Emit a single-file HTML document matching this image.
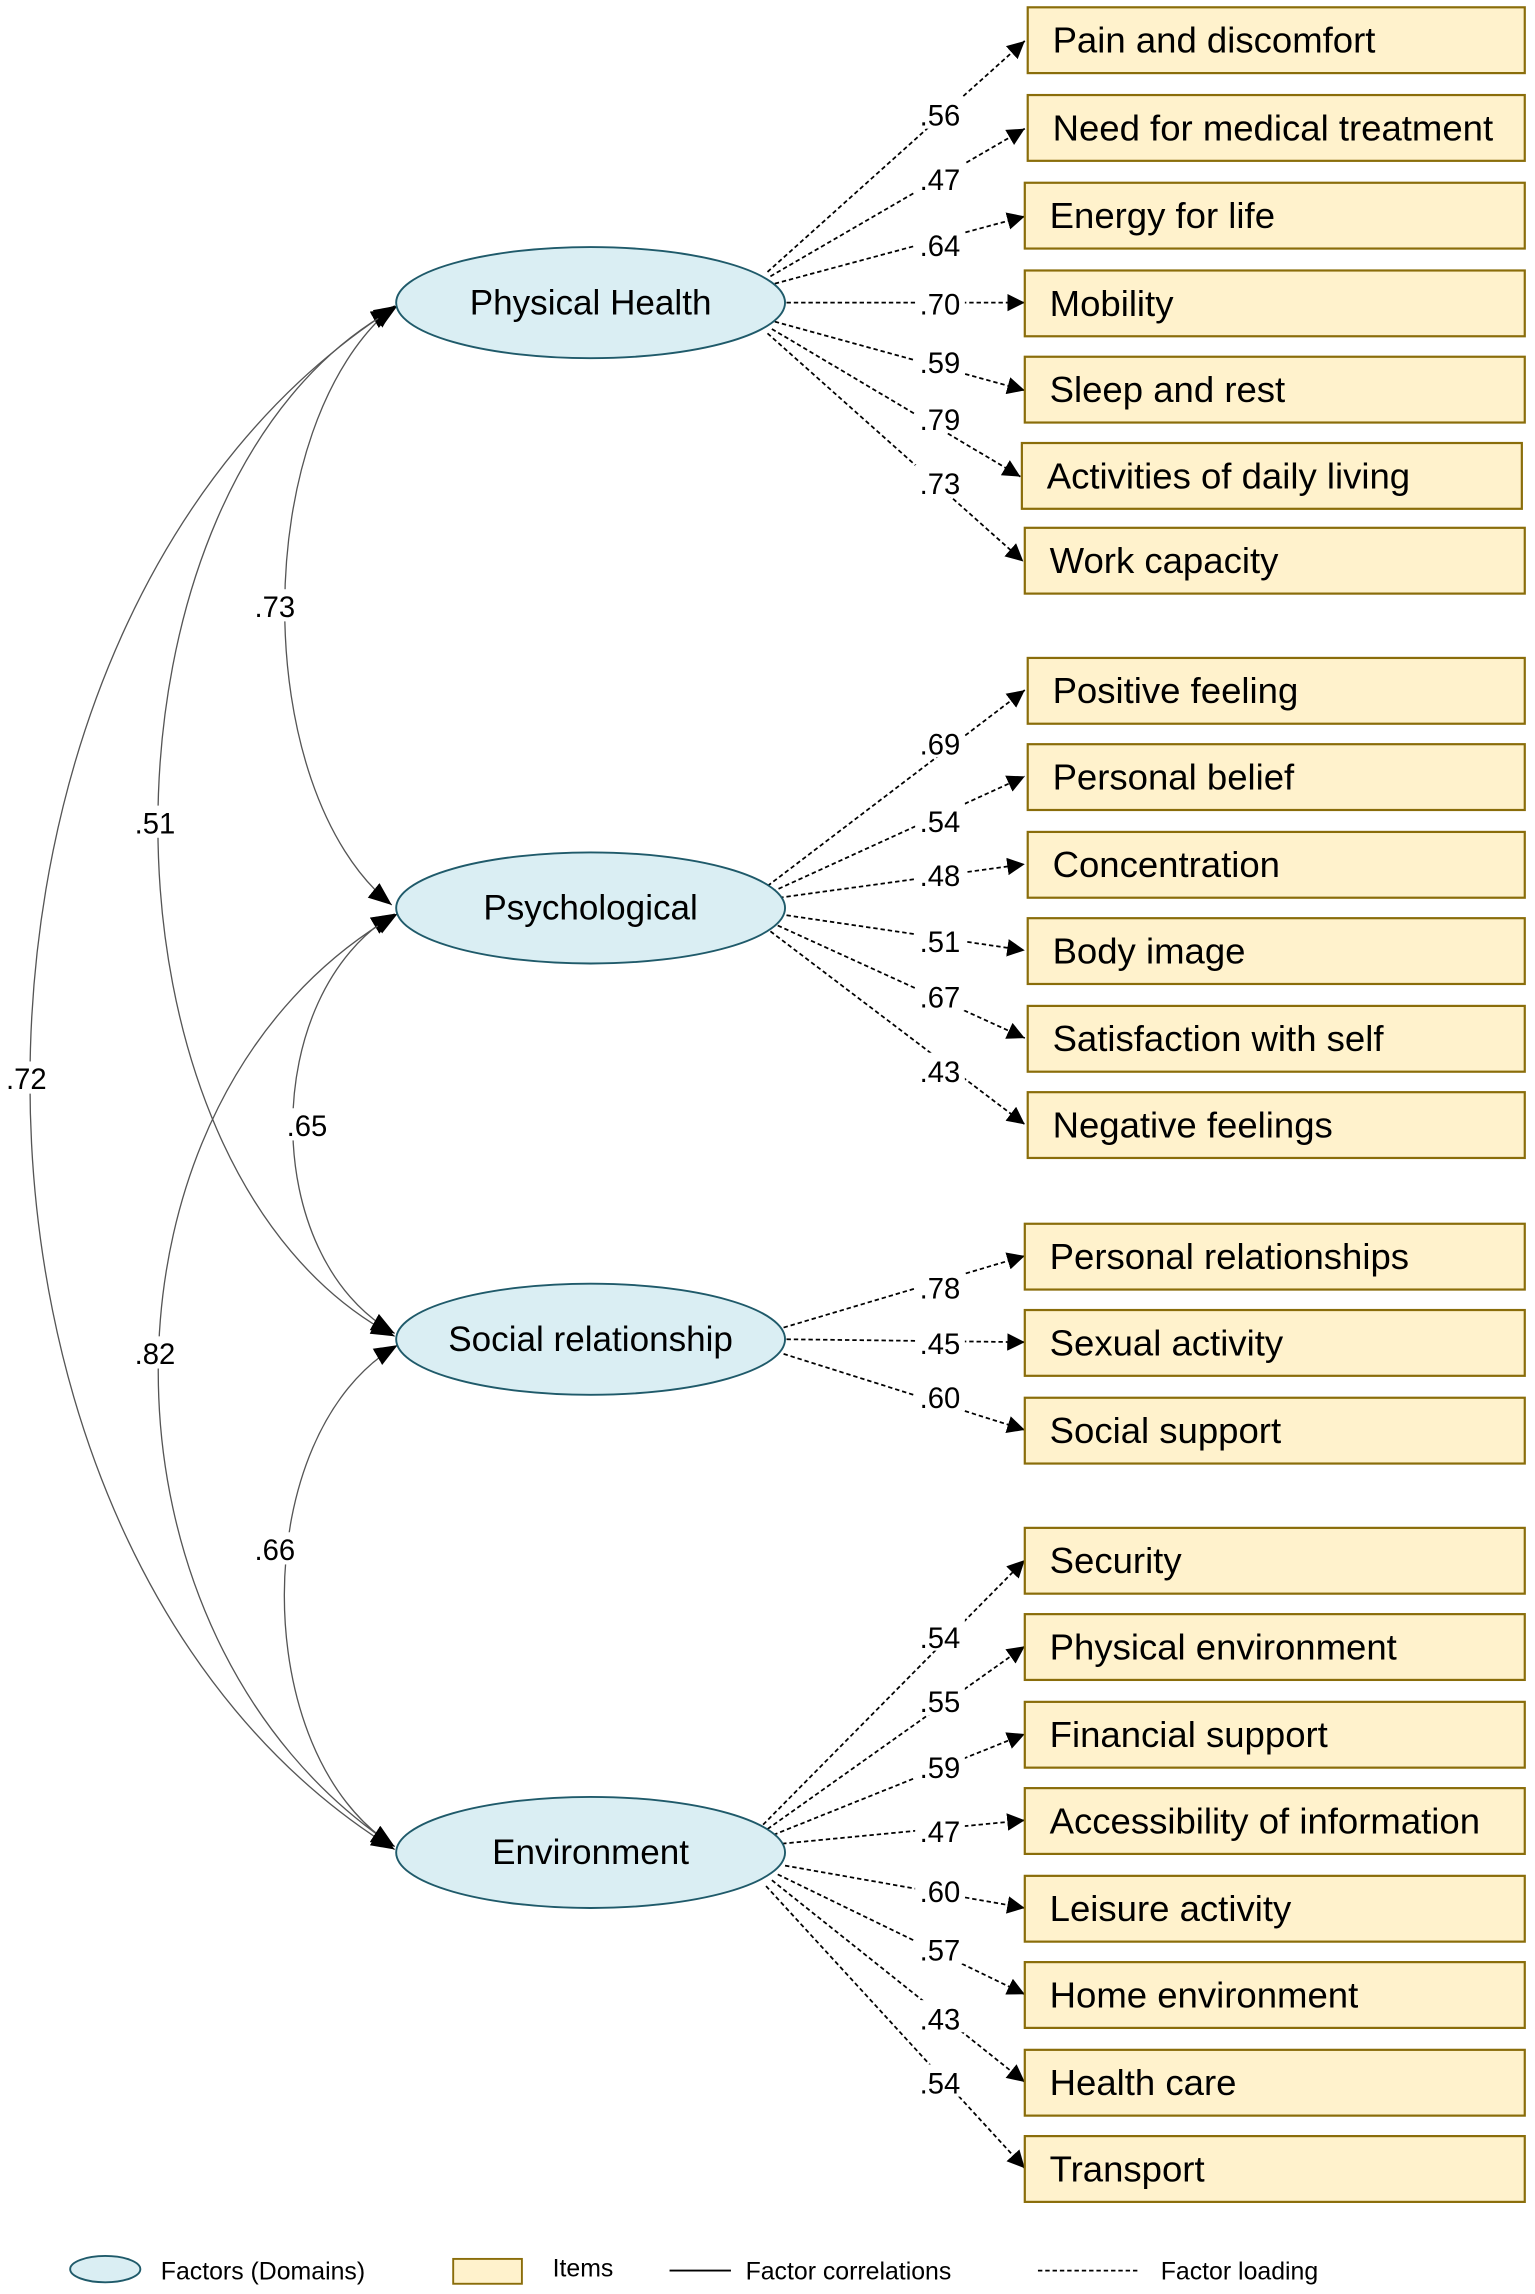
<!DOCTYPE html>
<html><head><meta charset="utf-8"><style>
html,body{margin:0;padding:0;background:#fff;}
svg{display:block;}
text{font-family:"Liberation Sans",sans-serif;fill:#000;}
</style></head><body>
<svg width="1535" height="2294" viewBox="0 0 1050 1569" preserveAspectRatio="none" xmlns="http://www.w3.org/2000/svg">
<defs>
<marker id="a" viewBox="0 0 10 10" refX="10" refY="5" markerWidth="12" markerHeight="12" markerUnits="userSpaceOnUse" orient="auto"><path d="M0,0 L10,5 L0,10 z" fill="#000"/></marker>
<marker id="b" viewBox="0 0 10 10" refX="10" refY="5" markerWidth="16" markerHeight="16" markerUnits="userSpaceOnUse" orient="auto-start-reverse"><path d="M0,1 L10,5 L0,9 z" fill="#000"/></marker>
</defs>
<g fill="none" stroke="#555" stroke-width="0.9" marker-start="url(#b)" marker-end="url(#b)">
<path d="M270,209 C170,290 170,540 268,619"/>
<path d="M270,211 C54,330 54,800 270,914"/>
<path d="M272,209 C-63,420 -63,1060 270,1265"/>
<path d="M270,625 C177,680 177,860 270,912"/>
<path d="M272,625 C54,750 54,1120 270,1263"/>
<path d="M272,920 C169,980 169,1200 270,1263"/>
</g>
<g font-size="20" text-anchor="middle">
<rect x="172" y="403" width="32" height="22" fill="#fff"/><text x="188" y="422">.73</text>
<rect x="90" y="551" width="32" height="22" fill="#fff"/><text x="106" y="570">.51</text>
<rect x="2" y="726" width="32" height="22" fill="#fff"/><text x="18" y="745">.72</text>
<rect x="194" y="758" width="32" height="22" fill="#fff"/><text x="210" y="777">.65</text>
<rect x="90" y="914" width="32" height="22" fill="#fff"/><text x="106" y="933">.82</text>
<rect x="172" y="1048" width="32" height="22" fill="#fff"/><text x="188" y="1067">.66</text>
</g>
<g stroke="#000" stroke-width="1.2" stroke-dasharray="3,2" fill="none" marker-end="url(#a)">
<path d="M525,186 L701,28"/><path d="M527,189 L701,88"/><path d="M530,194 L701,148"/><path d="M538,207 L701,207"/><path d="M530,220 L701,267"/><path d="M528,225 L698,326"/><path d="M525,228 L700,384"/>
<path d="M525,606 L701,472"/><path d="M528,610 L701,531"/><path d="M533,614 L701,591"/><path d="M538,626 L701,650"/><path d="M532,633 L701,710"/><path d="M527,637 L701,769"/>
<path d="M536,908 L701,859"/><path d="M538,916 L701,918"/><path d="M536,926 L701,978"/>
<path d="M522,1248 L701,1067"/><path d="M525,1251 L701,1126"/><path d="M529,1255 L701,1186"/><path d="M535,1261 L701,1245"/><path d="M537,1276 L701,1305"/><path d="M532,1282 L701,1364"/><path d="M528,1286 L701,1424"/><path d="M524,1290 L701,1483"/>
</g>
<g font-size="20" text-anchor="middle">
<g fill="#fff"><rect x="626" y="66" width="34" height="22"/><rect x="626" y="110" width="34" height="22"/><rect x="626" y="155" width="34" height="22"/><rect x="626" y="195" width="34" height="22"/><rect x="626" y="235" width="34" height="22"/><rect x="626" y="274" width="34" height="22"/><rect x="626" y="318" width="34" height="22"/>
<rect x="626" y="496" width="34" height="22"/><rect x="626" y="549" width="34" height="22"/><rect x="626" y="586" width="34" height="22"/><rect x="626" y="631" width="34" height="22"/><rect x="626" y="669" width="34" height="22"/><rect x="626" y="720" width="34" height="22"/>
<rect x="626" y="868" width="34" height="22"/><rect x="626" y="906" width="34" height="22"/><rect x="626" y="943" width="34" height="22"/>
<rect x="626" y="1107" width="34" height="22"/><rect x="626" y="1151" width="34" height="22"/><rect x="626" y="1196" width="34" height="22"/><rect x="626" y="1240" width="34" height="22"/><rect x="626" y="1281" width="34" height="22"/><rect x="626" y="1321" width="34" height="22"/><rect x="626" y="1368" width="34" height="22"/><rect x="626" y="1412" width="34" height="22"/></g>
<text x="643" y="86">.56</text><text x="643" y="130">.47</text><text x="643" y="175">.64</text><text x="643" y="215">.70</text><text x="643" y="255">.59</text><text x="643" y="294">.79</text><text x="643" y="338">.73</text>
<text x="643" y="516">.69</text><text x="643" y="569">.54</text><text x="643" y="606">.48</text><text x="643" y="651">.51</text><text x="643" y="689">.67</text><text x="643" y="740">.43</text>
<text x="643" y="888">.78</text><text x="643" y="926">.45</text><text x="643" y="963">.60</text>
<text x="643" y="1127">.54</text><text x="643" y="1171">.55</text><text x="643" y="1216">.59</text><text x="643" y="1260">.47</text><text x="643" y="1301">.60</text><text x="643" y="1341">.57</text><text x="643" y="1388">.43</text><text x="643" y="1432">.54</text>
</g>
<g fill="#daeef3" stroke="#1f5a6a" stroke-width="1.3">
<ellipse cx="404" cy="207" rx="133" ry="38"/><ellipse cx="404" cy="621" rx="133" ry="38"/><ellipse cx="404" cy="916" rx="133" ry="38"/><ellipse cx="404" cy="1267" rx="133" ry="38"/>
</g>
<g font-size="24" text-anchor="middle">
<text x="404" y="215">Physical Health</text><text x="404" y="629">Psychological</text><text x="404" y="924">Social relationship</text><text x="404" y="1275">Environment</text>
</g>
<g fill="#fff2cc" stroke="#8a6d0a" stroke-width="1.5">
<rect x="703" y="5" width="340" height="45"/><rect x="703" y="65" width="340" height="45"/><rect x="701" y="125" width="342" height="45"/><rect x="701" y="185" width="342" height="45"/><rect x="701" y="244" width="342" height="45"/><rect x="699" y="303" width="342" height="45"/><rect x="701" y="361" width="342" height="45"/>
<rect x="703" y="450" width="340" height="45"/><rect x="703" y="509" width="340" height="45"/><rect x="703" y="569" width="340" height="45"/><rect x="703" y="628" width="340" height="45"/><rect x="703" y="688" width="340" height="45"/><rect x="703" y="747" width="340" height="45"/>
<rect x="701" y="837" width="342" height="45"/><rect x="701" y="896" width="342" height="45"/><rect x="701" y="956" width="342" height="45"/>
<rect x="701" y="1045" width="342" height="45"/><rect x="701" y="1104" width="342" height="45"/><rect x="701" y="1164" width="342" height="45"/><rect x="701" y="1223" width="342" height="45"/><rect x="701" y="1283" width="342" height="45"/><rect x="701" y="1342" width="342" height="45"/><rect x="701" y="1402" width="342" height="45"/><rect x="701" y="1461" width="342" height="45"/>
</g>
<g font-size="25">
<text x="720" y="36">Pain and discomfort</text><text x="720" y="96">Need for medical treatment</text><text x="718" y="156">Energy for life</text><text x="718" y="216">Mobility</text><text x="718" y="275">Sleep and rest</text><text x="716" y="334">Activities of daily living</text><text x="718" y="392">Work capacity</text>
<text x="720" y="481">Positive feeling</text><text x="720" y="540">Personal belief</text><text x="720" y="600">Concentration</text><text x="720" y="659">Body image</text><text x="720" y="719">Satisfaction with self</text><text x="720" y="778">Negative feelings</text>
<text x="718" y="868">Personal relationships</text><text x="718" y="927">Sexual activity</text><text x="718" y="987">Social support</text>
<text x="718" y="1076">Security</text><text x="718" y="1135">Physical environment</text><text x="718" y="1195">Financial support</text><text x="718" y="1254">Accessibility of information</text><text x="718" y="1314">Leisure activity</text><text x="718" y="1373">Home environment</text><text x="718" y="1433">Health care</text><text x="718" y="1492">Transport</text>
</g>
<ellipse cx="72" cy="1552" rx="24" ry="9" fill="#daeef3" stroke="#1f5a6a" stroke-width="1.3"/>
<rect x="310" y="1545" width="47" height="17" fill="#fff2cc" stroke="#8a6d0a" stroke-width="1.3"/>
<line x1="458" y1="1553" x2="500" y2="1553" stroke="#000" stroke-width="1.3"/>
<line x1="710" y1="1553" x2="780" y2="1553" stroke="#000" stroke-width="1.2" stroke-dasharray="3,2"/>
<g font-size="17">
<text x="110" y="1559">Factors (Domains)</text><text x="378" y="1557">Items</text><text x="510" y="1559">Factor correlations</text><text x="794" y="1559">Factor loading</text>
</g>
</svg>
</body></html>
